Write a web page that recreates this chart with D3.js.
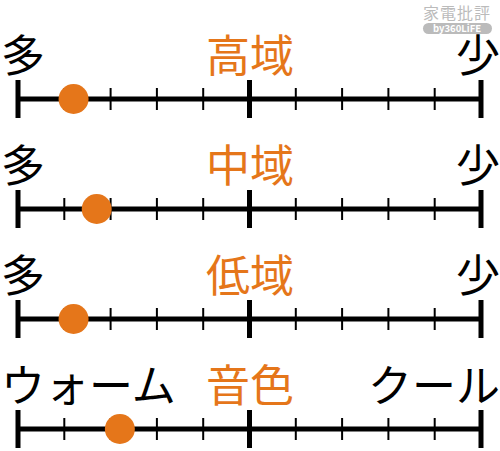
<!DOCTYPE html>
<html>
<head>
<meta charset="utf-8">
<title>scales</title>
<style>
  body { margin: 0; background: #fff; }
  text { font-family: "Noto Sans CJK JP", "Noto Sans", sans-serif; }
</style>
</head>
<body>
<svg width="500" height="451"></svg>
<script src="https://cdn.jsdelivr.net/npm/d3@7"></script>
<script>
// one row per scale
var titles = ['高域', '中域', '低域', '音色'];
var leftLabels = ['多', '多', '多', 'ウォーム'];
var rightLabels = ['少', '少', '少', 'クール'];
var values = [1.2, 1.7, 1.2, 2.2];   // position on a 0..10 scale
var tickValues = d3.range(0, 11);

var svg = d3.select('svg');
var orange = '#e5761a';

var x = d3.scaleLinear().domain([0, 10]).range([18, 481]);
var y = d3.scaleBand().domain(d3.range(titles.length)).range([44, 484]);

var row = svg.selectAll('g.row')
    .data(titles)
    .enter().append('g')
    .attr('class', 'row')
    .attr('transform', function(d, i) {
        return 'translate(0,' + (y(i) + y.bandwidth() / 2) + ')';
    });

// ticks
row.selectAll('line.tick')
    .data(tickValues)
    .enter().append('line')
    .attr('class', 'tick')
    .attr('x1', function(d) { return x(d); })
    .attr('x2', function(d) { return x(d); })
    .attr('y1', function(d) { return d % 5 === 0 ? -19 : -11; })
    .attr('y2', function(d) { return d % 5 === 0 ? 19 : 11; })
    .attr('stroke', '#000')
    .attr('stroke-width', function(d) { return d % 5 === 0 ? 5 : 2; });

// main line
row.append('line')
    .attr('x1', x(0)).attr('x2', x(10))
    .attr('y1', 0).attr('y2', 0)
    .attr('stroke', '#000')
    .attr('stroke-width', 5);

// dot
row.append('circle')
    .attr('cx', function(d, i) { return x(values[i]); })
    .attr('cy', 0)
    .attr('r', 15)
    .attr('fill', orange);

row.append('text')
    .attr('x', 250).attr('y', -27)
    .attr('text-anchor', 'middle')
    .attr('font-size', 44)
    .attr('fill', orange)
    .text(function(d) { return d; });

row.append('text')
    .attr('x', 1).attr('y', -27)
    .attr('font-size', 44)
    .attr('fill', '#000')
    .text(function(d, i) { return leftLabels[i]; });

row.append('text')
    .attr('x', 500).attr('y', -27)
    .attr('text-anchor', 'end')
    .attr('font-size', 44)
    .attr('fill', '#000')
    .text(function(d, i) { return rightLabels[i]; });

// watermark
var wm = svg.append('g').attr('class', 'wm');
wm.append('text')
    .attr('x', 457).attr('y', 18.5)
    .attr('text-anchor', 'middle')
    .attr('font-size', 16)
    .attr('letter-spacing', 1)
    .attr('fill', '#bbb')
    .text('家電批評');
wm.append('rect')
    .attr('x', 423).attr('y', 23)
    .attr('width', 69).attr('height', 11)
    .attr('rx', 5.5)
    .attr('fill', '#bbb');
wm.append('text')
    .attr('x', 457).attr('y', 32)
    .attr('text-anchor', 'middle')
    .attr('font-size', 9.5)
    .attr('font-weight', 'bold')
    .attr('fill', '#fff')
    .text('by360LiFE');
</script>
</body>
</html>
